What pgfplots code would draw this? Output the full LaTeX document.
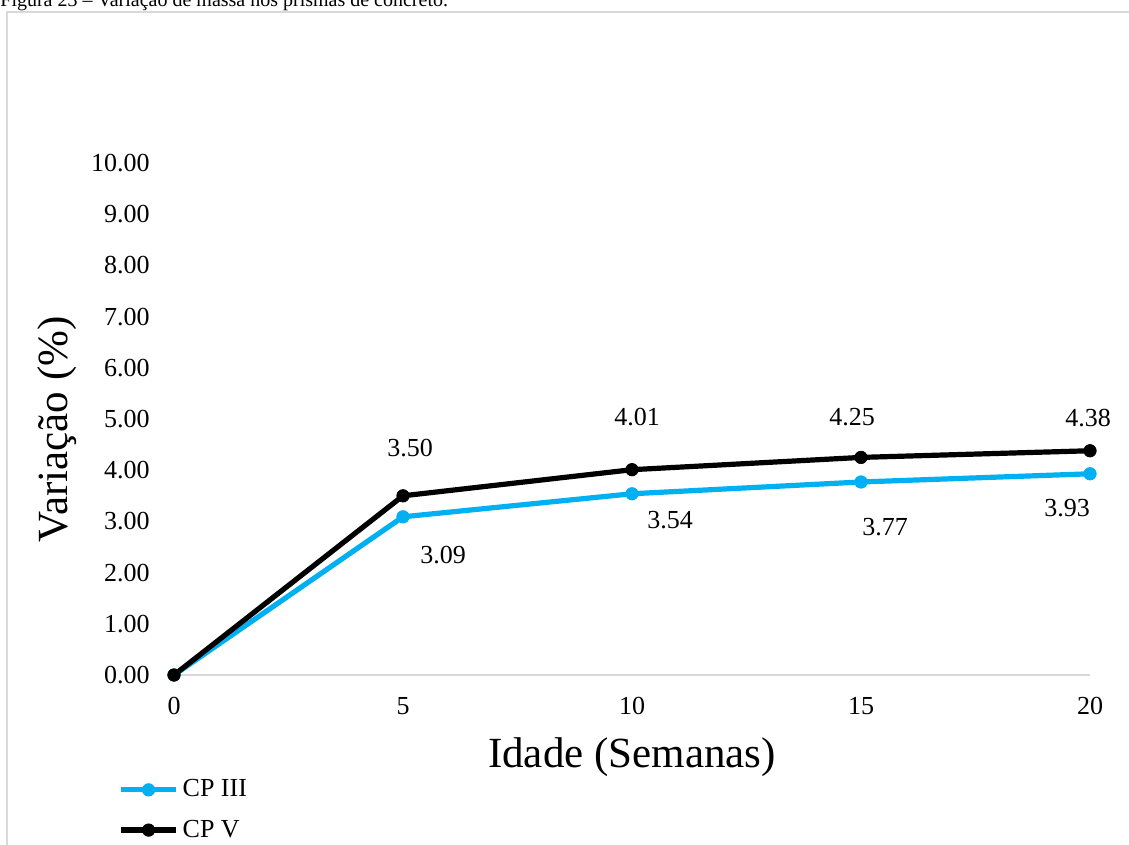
\documentclass[border=0pt]{standalone}
\usepackage{fontspec}
\setmainfont{Liberation Serif}
\usepackage{pgfplots}
\pgfplotsset{compat=1.18}
\definecolor{cpiii}{RGB}{0,176,240}
\definecolor{framegray}{RGB}{217,217,217}
\newcommand{\lbl}{\fontsize{13}{15}\selectfont}
\begin{document}
\begin{tikzpicture}
\useasboundingbox (0,0) rectangle (564.5pt,-422.5pt);
\draw[framegray, line width=1pt] (3.5pt,-430pt) -- (3.5pt,-6pt) -- (570pt,-6pt);
\node[anchor=base west, inner sep=0, font=\fontsize{10}{12}\selectfont] at (0,-3.5pt) {Figura 23 – Variação de massa nos prismas de concreto.};
\begin{axis}[
  at={(87pt,-337.5pt)}, anchor=south west,
  width=458pt, height=256pt, scale only axis,
  xmin=0, xmax=20, ymin=0, ymax=10,
  clip=false,
  axis x line=bottom, axis y line=left,
  x axis line style={-, draw=framegray, line width=1pt},
  y axis line style={draw=none},
  xtick={0,5,10,15,20}, ytick={0,1,...,10},
  major tick length=0pt, tick style={draw=none},
  /pgf/number format/assume math mode=true,
  yticklabel style={/pgf/number format/.cd, fixed, fixed zerofill, precision=2, /tikz/.cd,
    anchor=east, inner sep=0pt, xshift=-12pt, font=\lbl},
  xticklabel style={anchor=center, inner sep=0pt, yshift=-15.5pt, font=\lbl},
  xlabel={Idade (Semanas)},
  xlabel style={at={(axis description cs:0.5,-0.160)}, anchor=center, inner sep=0pt, font=\fontsize{21.5}{25}\selectfont},
  ylabel={Variação (\%)},
  ylabel style={at={(axis description cs:-0.1277,0.480)}, anchor=center, inner sep=0pt, font=\fontsize{21.5}{25}\selectfont},
  legend style={at={(axis description cs:-0.061,-0.196)}, anchor=north west, draw=none, fill=none,
    inner sep=0pt, row sep=6pt, font=\lbl},
  legend cell align=left,
  legend image code/.code={\draw[mark repeat=2,mark phase=2,#1] plot coordinates {(0pt,0pt) (13.75pt,0pt) (27.5pt,0pt)};},
]
\addplot[cpiii, line width=2.6pt, line join=round, mark=*, mark size=3.1pt, mark options={line width=0.4pt, fill=cpiii}]
  coordinates {(0,0) (5,3.09) (10,3.54) (15,3.77) (20,3.93)};
\addlegendentry{CP III}
\addplot[black, line width=2.6pt, line join=round, mark=*, mark size=3.1pt, mark options={line width=0.4pt, fill=black}]
  coordinates {(0,0) (5,3.50) (10,4.01) (15,4.25) (20,4.38)};
\addlegendentry{CP V}
\node[font=\lbl, xshift=3.5pt, yshift=24pt] at (axis cs:5,3.50) {3.50};
\node[font=\lbl, xshift=2.5pt, yshift=26.5pt] at (axis cs:10,4.01) {4.01};
\node[font=\lbl, xshift=-4.5pt, yshift=20pt] at (axis cs:15,4.25) {4.25};
\node[font=\lbl, xshift=-1pt, yshift=16.5pt] at (axis cs:20,4.38) {4.38};
\node[font=\lbl, xshift=20pt, yshift=-19pt] at (axis cs:5,3.09) {3.09};
\node[font=\lbl, xshift=19pt, yshift=-13pt] at (axis cs:10,3.54) {3.54};
\node[font=\lbl, xshift=12pt, yshift=-22.5pt] at (axis cs:15,3.77) {3.77};
\node[font=\lbl, xshift=-11.5pt, yshift=-17pt] at (axis cs:20,3.93) {3.93};
\end{axis}
\end{tikzpicture}
\end{document}
